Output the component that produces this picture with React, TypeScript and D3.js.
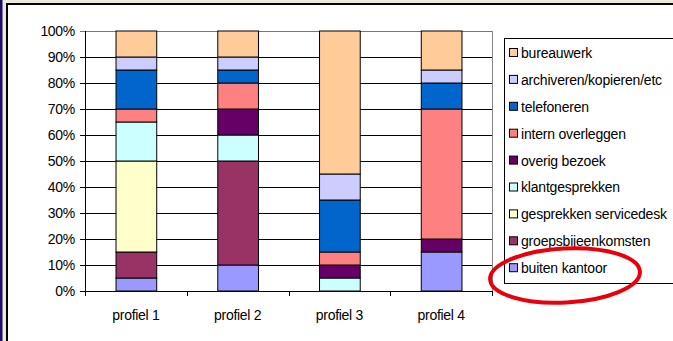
import React from "react";
import * as d3 from "d3";

const categories = ["profiel 1", "profiel 2", "profiel 3", "profiel 4"];
// series in stacking order, bottom to top
const seriesNames = [
  "buiten kantoor",
  "groepsbijeenkomsten",
  "gesprekken servicedesk",
  "klantgesprekken",
  "overig bezoek",
  "intern overleggen",
  "telefoneren",
  "archiveren/kopieren/etc",
  "bureauwerk",
];
const buitenKantoor = [5, 10, 0, 15];
const groepsbijeenkomsten = [10, 40, 0, 0];
const gesprekkenServicedesk = [35, 0, 0, 0];
const klantgesprekken = [15, 10, 5, 0];
const overigBezoek = [0, 10, 5, 5];
const internOverleggen = [5, 10, 5, 50];
const telefoneren = [15, 5, 20, 10];
const archiveren = [5, 5, 10, 5];
const bureauwerk = [10, 10, 55, 15];
const seriesColors = [
  "#9999FF",
  "#993366",
  "#FFFFCC",
  "#CCFFFF",
  "#660066",
  "#FF8080",
  "#0066CC",
  "#CCCCFF",
  "#FFCC99",
];
const yTicks = [0, 10, 20, 30, 40, 50, 60, 70, 80, 90, 100];

const seriesValues = [
  buitenKantoor,
  groepsbijeenkomsten,
  gesprekkenServicedesk,
  klantgesprekken,
  overigBezoek,
  internOverleggen,
  telefoneren,
  archiveren,
  bureauwerk,
];

const W = 673;
const H = 341;
const FONT = "'Liberation Sans', Arial, sans-serif";

export default function App() {
  const plotL = 85,
    plotR = 492,
    plotT = 31,
    plotB = 291;
  const x = d3.scaleBand<string>().domain(categories).range([plotL, plotR]).paddingInner(0.6).paddingOuter(0.3);
  const y = d3.scaleLinear().domain([0, 100]).range([plotB, plotT]);

  const table = categories.map((c, i) => {
    const row: any = { cat: c };
    seriesNames.forEach((s, j) => (row[s] = seriesValues[j][i]));
    return row;
  });
  const stacked = d3.stack<any>().keys(seriesNames)(table);

  const step = (plotR - plotL) / categories.length;
  const legendItems = [...seriesNames].map((n, i) => ({ n, c: seriesColors[i] })).reverse();

  return (
    <svg width={W} height={H} style={{ position: "fixed", left: 0, top: 0 }} fontFamily={FONT}>
      {/* window frame */}
      <rect x={0} y={0} width={W} height={H} fill="#fff" />
      <rect x={0} y={0} width={W} height={4} fill="#ECE9D8" />
      <rect x={0} y={0} width={7} height={H} fill="#ECE9D8" />
      <rect x={0} y={0} width={2.5} height={H} fill="#1C0F66" />
      <rect x={6} y={3} width={W} height={2} fill="#000" />
      <rect x={6} y={3} width={2} height={H} fill="#000" />

      {/* gridlines */}
      {yTicks.map((t) => (
        <line key={t} x1={plotL - 5} x2={plotR} y1={Math.round(y(t)) + 0.5} y2={Math.round(y(t)) + 0.5} stroke={t === 100 ? "#777" : "#000"} strokeWidth={1} />
      ))}
      <line x1={plotR + 0.5} x2={plotR + 0.5} y1={plotT} y2={plotB} stroke="#888" />
      {/* bars */}
      {stacked.map((layer, j) =>
        layer.map((d, i) =>
          d[1] - d[0] > 0 ? (
            <rect
              key={`${j}-${i}`}
              x={x(categories[i])! + 0.5}
              y={y(d[1])}
              width={x.bandwidth()}
              height={y(d[0]) - y(d[1])}
              fill={seriesColors[j]}
              stroke="#000"
              strokeWidth={1}
            />
          ) : null
        )
      )}
      {/* axes */}
      <line x1={plotL + 0.5} x2={plotL + 0.5} y1={plotT} y2={plotB} stroke="#000" />
      <line x1={plotL} x2={plotR} y1={plotB + 0.5} y2={plotB + 0.5} stroke="#000" />
      {d3.range(categories.length + 1).map((i) => (
        <line key={i} x1={Math.round(plotL + i * step) + 0.5} x2={Math.round(plotL + i * step) + 0.5} y1={plotB} y2={plotB + 5} stroke="#000" />
      ))}
      {yTicks.map((t) => (
        <text key={t} x={75} y={y(t)} dy="0.35em" textAnchor="end" fontSize={14} fill="#000" letterSpacing={-0.3}>
          {t}%
        </text>
      ))}
      {categories.map((c) => (
        <text key={c} x={x(c)! + x.bandwidth() / 2} y={315} dy="0.35em" textAnchor="middle" fontSize={14} fill="#000" letterSpacing={-0.3}>
          {c}
        </text>
      ))}

      {/* legend */}
      <rect x={504.5} y={38.5} width={200} height={245} fill="#fff" stroke="#000" />
      {legendItems.map((it, i) => (
        <g key={it.n} transform={`translate(0, ${53 + i * 26.9})`}>
          <rect x={509.5} y={-4.5} width={8} height={8} fill={it.c} stroke="#000" />
          <text x={521} y={0} dy="0.35em" fontSize={14} fill="#000" letterSpacing={-0.2}>
            {it.n}
          </text>
        </g>
      ))}

      {/* red ellipse annotation */}
      <ellipse cx={565} cy={275.5} rx={75} ry={27} fill="none" stroke="#E8000B" strokeWidth={4} transform="rotate(-3 565 275.5)" />
    </svg>
  );
}
